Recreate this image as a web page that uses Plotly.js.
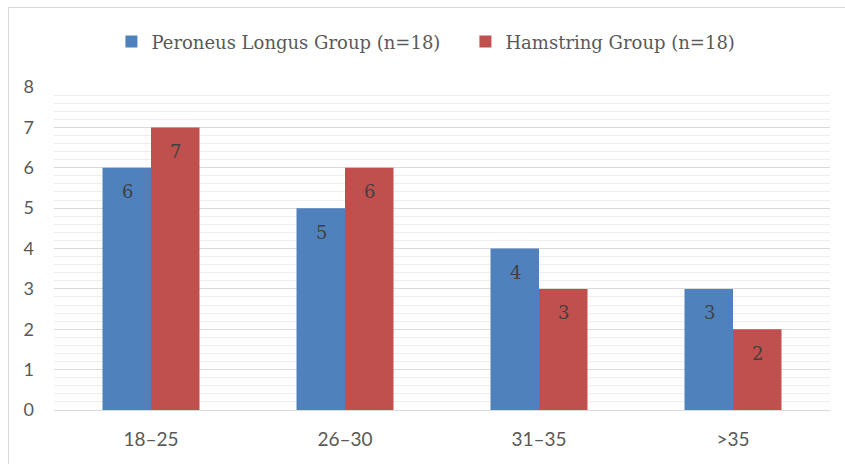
<!DOCTYPE html>
<html><head><meta charset="utf-8">
<script src="https://cdn.plot.ly/plotly-3.0.1.min.js"></script>
<style>
html,body{margin:0;padding:0;background:#fff;}
#chart{position:absolute;left:0;top:0;width:845px;height:464px;}
#frame{position:absolute;left:8px;top:7px;width:900px;height:500px;border:1px solid #d9d9d9;pointer-events:none;}
</style></head>
<body>
<div id="chart"></div>
<div id="frame"></div>
<script>
const categories = ['18–25', '26–30', '31–35', '>35'];
const peroneusLongus = [6, 5, 4, 3];
const hamstring = [7, 6, 3, 2];
const seriesNames = ['Peroneus Longus Group (n=18)', 'Hamstring Group (n=18)'];
const colors = ['#4F81BD', '#C0504D'];

const traces = [peroneusLongus, hamstring].map((vals, i) => ({
  type: 'bar', x: categories, y: vals, name: seriesNames[i],
  marker: {color: colors[i]}, hoverinfo: 'none'
}));

const annotations = [];
[peroneusLongus, hamstring].forEach((vals, i) => {
  vals.forEach((v, j) => {
    annotations.push({
      x: categories[j], y: v, xref: 'x', yref: 'y', text: String(v),
      showarrow: false, xshift: i === 0 ? -24 : 24, yshift: -24,
      font: {family: 'DejaVu Serif, serif', size: 18, color: '#404040'}
    });
  });
});

const layout = {
  width: 845, height: 464,
  margin: {l: 54, r: 15, t: 87, b: 54},
  paper_bgcolor: '#fff', plot_bgcolor: '#fff',
  barmode: 'group', bargap: 0.5, bargroupgap: 0,
  showlegend: true,
  legend: {orientation: 'h', x: 0.074, xanchor: 'left', y: 1.14, yanchor: 'middle',
    font: {family: 'DejaVu Serif, serif', size: 18, color: '#595959'},
    itemwidth: 30, entrywidth: 309, entrywidthmode: 'pixels', traceorder: 'normal'},
  xaxis: {showgrid: false, showline: true, linecolor: '#d9d9d9', linewidth: 1,
    ticks: '', ticklabelstandoff: 12,
    tickfont: {family: 'Lato, sans-serif', size: 19, color: '#595959'}},
  yaxis: {range: [0, 8], dtick: 1, showline: false, zeroline: false,
    gridcolor: '#d9d9d9', gridwidth: 1, ticks: '',
    tickfont: {family: 'Lato, sans-serif', size: 18, color: '#595959'},
    ticklabelstandoff: 19,
    minor: {dtick: 0.2, showgrid: true, gridcolor: '#eeeeee', gridwidth: 1}},
  annotations: annotations
};

Plotly.newPlot('chart', traces, layout, {displayModeBar: false, staticPlot: true});
</script>
</body></html>
